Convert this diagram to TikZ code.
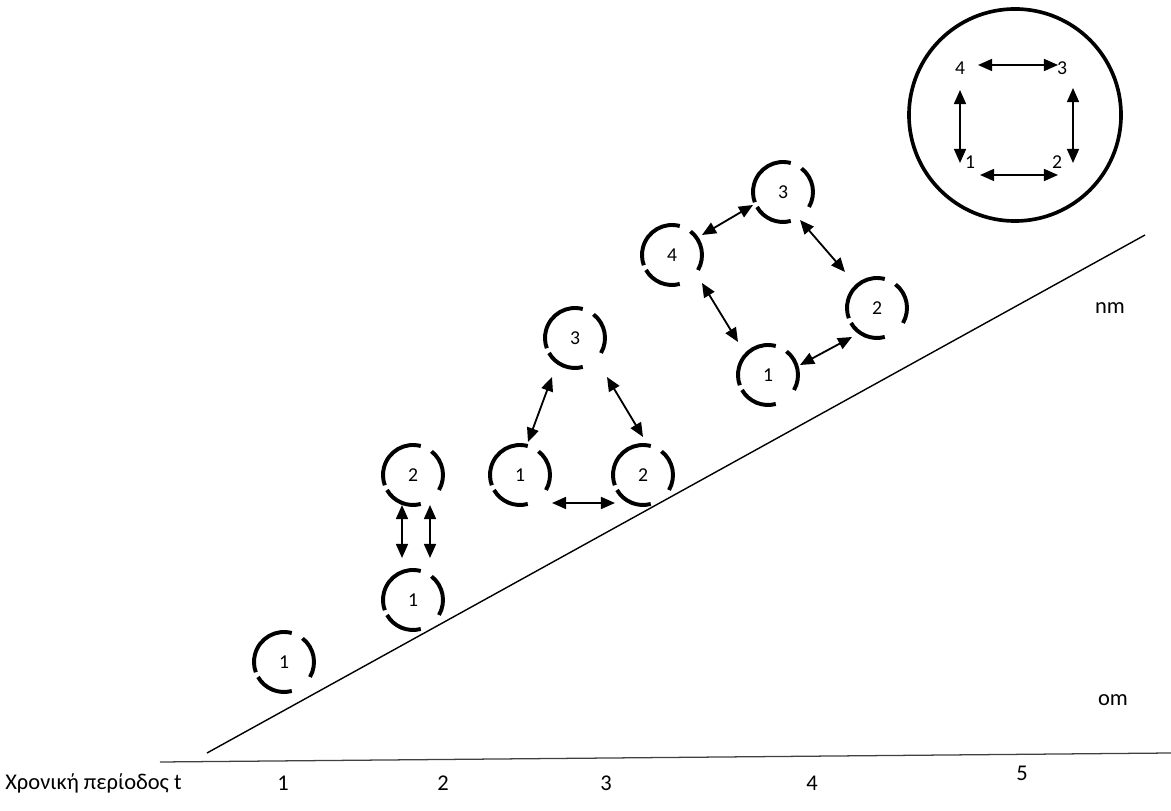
\documentclass[tikz,border=0pt]{standalone}
\usepackage{fontspec}
\setmainfont{Carlito}
\usetikzlibrary{arrows.meta}

% dashed ring round a named node
\newcommand{\dashring}[1]{%
 \foreach \a/\b in {75/200,210/285,330/412}
  \draw[ringarc] ([shift={(\a:30)}]#1.center) arc[start angle=\a,end angle=\b,radius=30];}

\begin{document}
\begin{tikzpicture}[x=0.025cm,y=0.025cm,font=\fontsize{14}{16}\selectfont,
 ringarc/.style={line width=2.8pt},
 dig/.style={inner sep=1pt},
 dar/.style={line width=1.3pt,{Triangle[length=10pt,width=8.5pt]}-{Triangle[length=10pt,width=8.5pt]}},
 bigring/.style={draw,circle,line width=2.6pt,minimum size=5.3cm,inner sep=0pt},
 lbl/.style={inner sep=0pt,font=\fontsize{16}{18}\selectfont}]
\useasboundingbox (0,0) rectangle (1171,810);
% axes
\coordinate (b0) at (160,48);
\coordinate (b1) at (1171,57);
\coordinate (d0) at (207,57);
\coordinate (d1) at (1145,575);
\draw[line width=0.9pt,black!75] (b0) -- (b1);
\draw[line width=1pt] (d0) -- (d1);
\node[lbl,anchor=west] (tlbl) at (5,27) {Χρονική περίοδος t};
\node[lbl] (t1) at (283,27) {1};
\node[lbl] (t2) at (443,27) {2};
\node[lbl] (t3) at (606,27) {3};
\node[lbl] (t4) at (812,27) {4};
\node[lbl] (t5) at (1022,37) {5};
\node[lbl] (nm) at (1110,502) {nm};
\node[lbl] (om) at (1113,110) {om};
% period 1
\node[dig] (a1) at (284,148) {1};
\dashring{a1}
% period 2
\node[dig] (b1n) at (413,210) {1};
\node[dig] (b2n) at (413,335) {2};
\dashring{b1n}
\dashring{b2n}
\draw[dar] ([shift={(-11,-30)}]b2n.center) -- ([shift={(-11,42)}]b1n.center);
\draw[dar] ([shift={(17,-30)}]b2n.center) -- ([shift={(17,42)}]b1n.center);
% period 3
\node[dig] (c1) at (520,335) {1};
\node[dig] (c2) at (643,335) {2};
\node[dig] (c3) at (575,472) {3};
\foreach \n in {c1,c2,c3} {\dashring{\n}}
\draw[dar] ([shift={(-23,-39)}]c3.center) -- ([shift={(8,33)}]c1.center);
\draw[dar] ([shift={(32,-39)}]c3.center) -- ([shift={(0,38)}]c2.center);
\draw[dar] ([shift={(32,-28)}]c1.center) -- ([shift={(-28,-28)}]c2.center);
% period 4
\node[dig] (e1) at (768,435) {1};
\node[dig] (e2) at (877,502) {2};
\node[dig] (e3) at (783,618) {3};
\node[dig] (e4) at (672,555) {4};
\foreach \n in {e1,e2,e3,e4} {\dashring{\n}}
\draw[dar] ([shift={(30,20)}]e4.center) -- ([shift={(-30,-13)}]e3.center);
\draw[dar] ([shift={(17,-28)}]e3.center) -- ([shift={(-32,36)}]e2.center);
\draw[dar] ([shift={(30,-28)}]e4.center) -- ([shift={(-30,33)}]e1.center);
\draw[dar] ([shift={(32,10)}]e1.center) -- ([shift={(-25,-29)}]e2.center);
% period 5
\node[bigring] (big) at (1015,695) {};
\node[dig] (f1) at (970,648) {1};
\node[dig] (f2) at (1057,648) {2};
\node[dig] (f3) at (1062,742) {3};
\node[dig] (f4) at (960,742) {4};
\draw[dar] ([shift={(18,3)}]f4.center) -- ([shift={(-4,3)}]f3.center);
\draw[dar] ([shift={(10,-13)}]f1.center) -- ([shift={(1,-13)}]f2.center);
\draw[dar] ([shift={(0,-22)}]f4.center) -- ([shift={(-10,-1)}]f1.center);
\draw[dar] ([shift={(11,-20)}]f3.center) -- ([shift={(16,-1)}]f2.center);
\end{tikzpicture}
\end{document}
